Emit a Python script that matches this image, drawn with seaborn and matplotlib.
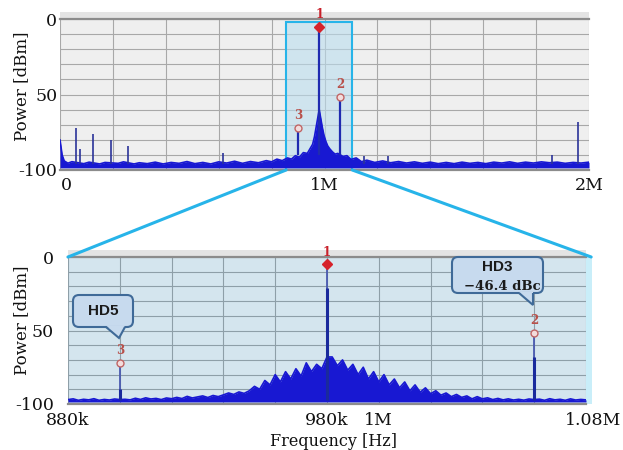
import matplotlib
matplotlib.use("Agg")
import numpy as np
import pandas as pd
import matplotlib.pyplot as plt
import matplotlib.transforms as mtransforms
from matplotlib.patches import Rectangle, FancyBboxPatch, Polygon, ConnectionPatch
import seaborn as sns

# ---------------- data (frequencies in kHz, levels in dBm) ----------------
top_freq = [0, 8, 16, 30, 45, 90, 110, 150, 170, 220,
            240, 280, 300, 330, 360, 390, 420, 450, 480, 510,
            540, 570, 600, 630, 660, 690, 720, 750, 780, 800,
            820, 840, 860, 875, 890, 905, 920, 935, 945, 955,
            962, 968, 974, 980, 986, 992, 998, 1005, 1012, 1020,
            1030, 1040, 1050, 1070, 1085, 1100, 1120, 1140, 1160, 1190,
            1220, 1250, 1280, 1310, 1340, 1370, 1400, 1430, 1460, 1490,
            1520, 1550, 1580, 1610, 1640, 1670, 1700, 1730, 1760, 1790,
            1820, 1850, 1880, 1910, 1940, 1970, 2000]
top_level = [-80, -90, -94, -95.5, -94.5, -95.8, -94.8, -96, -95, -95.6,
             -94.6, -96, -95.2, -95.8, -94.8, -96, -95, -95.6, -94.4, -95.8,
             -95, -96, -94.6, -95.4, -94.2, -95.6, -94.4, -95.2, -93.8, -94.6,
             -92.8, -93.8, -92, -92.8, -90.5, -91.5, -88.5, -89, -86, -83,
             -78, -72, -66, -60, -66, -72, -77, -81, -84, -86,
             -88, -89.5, -89, -91, -90.5, -93, -92, -94.5, -93.5, -95,
             -94, -95.2, -94.4, -95.4, -94.6, -95.6, -94.8, -95.8, -95, -95.8,
             -94.8, -95.6, -95, -95.8, -94.8, -95.4, -94.6, -95.6, -94.8, -95.4,
             -94.6, -95.2, -94.8, -95.6, -95, -95.4, -94.8]

spur_freq = [59, 76, 126, 192, 258, 615, 1150, 1240, 1860, 1959]
spur_level = [-72, -86, -76, -80, -84, -89, -91, -91, -90, -68]

bot_freq = [880, 882, 884, 886, 888, 890, 892, 894, 896, 898,
            900, 902, 904, 906, 908, 910, 912, 914, 916, 918,
            920, 922, 924, 926, 928, 930, 932, 934, 936, 938,
            940, 942, 944, 946, 948, 950, 952, 954, 956, 958,
            960, 962, 964, 966, 968, 970, 972, 974, 976, 978,
            980, 982, 984, 986, 988, 990, 992, 994, 996, 998,
            1000, 1002, 1004, 1006, 1008, 1010, 1012, 1014, 1016, 1018,
            1020, 1022, 1024, 1026, 1028, 1030, 1032, 1034, 1036, 1038,
            1040, 1042, 1044, 1046, 1048, 1050, 1052, 1054, 1056, 1058,
            1060, 1062, 1064, 1066, 1068, 1070, 1072, 1074, 1076, 1078,
            1080]
bot_level = [-97, -96.5, -97.5, -96.8, -97.2, -96.4, -97.5, -96.9, -97.3, -96.6,
             -97, -96.8, -97.2, -96.1, -96.9, -95.8, -96.6, -96.2, -97, -95.9,
             -96.4, -95.5, -96.3, -94.8, -95.9, -95.2, -94.5, -95.6, -94.2, -95,
             -93.8, -92.5, -93.5, -91.8, -92.8, -91, -88, -90, -84, -87,
             -80, -85, -78, -83, -76, -81, -72, -78, -73, -76,
             -68, -68, -74, -70, -77, -73, -80, -75, -83, -78,
             -85, -80, -87, -83, -89, -85, -91, -87, -92, -89,
             -93, -91, -94, -92.5, -95, -93.5, -95.5, -94.5, -96.5, -95,
             -96.5, -95.8, -97, -96.2, -97.2, -96.5, -97.3, -96.8, -97.4, -96.6,
             -97, -96.7, -97.5, -96.4, -97.2, -96.8, -97.5, -96.5, -97.3, -96.9,
             -97.2]

peak_freq = [980, 1060, 900]
peak_level = [-5, -51.4, -72]
peak_core_level = [-21, -68, -90]
peak_id = ["1", "2", "3"]

zoom_span = [855, 1105]          # highlighted span in the top panel (kHz)

top_xticks = [0, 1000, 2000]
top_xlabels = ["0", "1M", "2M"]
bot_xticks = [880, 980, 1000, 1080]
bot_xlabels = ["880k", "980k", "1M", "1.08M"]
y_ticks = [0, -50, -100]
y_labels = ["0", "50", "-100"]

# ---------------- style ----------------
sns.set_theme(style="white")
plt.rcParams["font.family"] = ["DejaVu Serif", "DejaVu Sans"]

W, H = 623, 450
fig = plt.figure(figsize=(W / 100, H / 100), dpi=100)
fig.patch.set_facecolor("white")


def fig_rect(l, t, r, b):
    return [l / W, 1 - b / H, (r - l) / W, (b - t) / H]


ax1 = fig.add_axes(fig_rect(60, 19, 589, 170))
ax2 = fig.add_axes(fig_rect(68, 257, 586, 404))

BLUE = "#1818d2"
FLOOR = -98.6


def style(ax, face, grid_color, xlim, xticks, xlabels, step, ypad, xpad):
    ax.set_facecolor(face)
    ax.set_xlim(*xlim)
    ax.set_ylim(-100, 0)
    ax.set_xticks(xticks)
    ax.set_xticklabels(xlabels)
    ax.set_xticks(np.arange(xlim[0], xlim[1] + 1e-6, step), minor=True)
    ax.set_yticks(y_ticks)
    ax.set_yticklabels(y_labels)
    ax.set_yticks(np.arange(-100, 1, 10), minor=True)
    ax.set_axisbelow(True)
    ax.grid(which="both", color=grid_color, lw=0.8)
    ax.tick_params(which="both", length=0, labelsize=12.5, colors="#111111")
    ax.tick_params(axis="y", pad=ypad)
    ax.tick_params(axis="x", pad=xpad)
    for s in ["left", "right"]:
        ax.spines[s].set_visible(False)
    for s in ["top", "bottom"]:
        ax.spines[s].set_color("#8c8c8c")
        ax.spines[s].set_linewidth(1.6)
    ax.add_patch(Rectangle((0, 1), 1, 0.045, transform=ax.transAxes,
                           fc="#e4e4e4", ec="none", clip_on=False, zorder=0))


style(ax1, "#efefef", "#a8a8a8", (0, 2000), top_xticks, top_xlabels, 200, 2, 5)
style(ax2, "#d4e5ee", "#8e9fa8", (880, 1080), bot_xticks, bot_xlabels, 20, 10, 5.5)

# shift a couple of tick labels like in the reference
lab0 = ax1.get_xticklabels()[0]
lab0.set_transform(lab0.get_transform() + mtransforms.ScaledTranslation(0.06, 0, fig.dpi_scale_trans))
labl = ax2.get_xticklabels()[-1]
labl.set_transform(labl.get_transform() + mtransforms.ScaledTranslation(0.07, 0, fig.dpi_scale_trans))

# highlight in top panel
ax1.add_patch(Rectangle((zoom_span[0], -100), zoom_span[1] - zoom_span[0], 98,
                        fc=(187 / 255, 221 / 255, 238 / 255, 0.6), ec="#27b4e9",
                        lw=1.5, zorder=1))
# cyan strip right of bottom panel
ax2.add_patch(Rectangle((1, 0), 0.012, 1, transform=ax2.transAxes,
                        fc="#c9eef9", ec="none", clip_on=False, zorder=0))


def draw_spectrum(ax, freq, level):
    df = pd.DataFrame({"f": freq, "p": level})
    ax.fill_between(df["f"], FLOOR, df["p"], color=BLUE, lw=0, zorder=2)
    sns.lineplot(data=df, x="f", y="p", ax=ax, color=BLUE, lw=1.2,
                 estimator=None, zorder=3)
    ax.set_xlabel("")
    ax.set_ylabel("")


draw_spectrum(ax1, top_freq, top_level)
draw_spectrum(ax2, bot_freq, bot_level)

ax1.vlines(spur_freq, -96, spur_level, color="#2b3399", lw=1.2, zorder=3)
ax1.vlines(peak_freq, -90, peak_level, color="#1f2bb0", lw=1.6, zorder=4)
ax2.vlines(peak_freq, -97, peak_level, color="#4a5ab0", lw=1.3, zorder=4)
ax2.vlines(peak_freq, -97, peak_core_level, color="#1a2a9c", lw=2.2, zorder=4)

for ax in (ax1, ax2):
    for f, lv, pid in zip(peak_freq, peak_level, peak_id):
        if pid == "1":
            ax.plot(f, lv, marker="D", ms=5.5, color="#d6222a", zorder=6, clip_on=False)
            col = "#c8202a"
        else:
            ax.plot(f, lv, marker="o", ms=5, mfc="#f3dcdc", mec="#c06565", mew=1,
                    zorder=6, clip_on=False)
            col = "#b8504a"
        ax.annotate(pid, (f, lv), xytext=(0, 4), textcoords="offset points",
                    ha="center", va="bottom", color=col, fontsize=8.5,
                    fontweight="bold", annotation_clip=False, zorder=7)

# zoom connection lines
for xa, xb in [(zoom_span[0], 880), (zoom_span[1], 1082)]:
    con = ConnectionPatch(xyA=(xa, -100), coordsA=ax1.transData,
                          xyB=(xb, 0), coordsB=ax2.transData,
                          color="#27b4e9", lw=2.2, zorder=10)
    fig.add_artist(con)

# callouts (pixel coordinates, origin bottom-left)
IDT = mtransforms.IdentityTransform()
FC, EC = "#c7daee", "#3f6a98"


def callout(x0, y0, x1, y1, tail):
    box = FancyBboxPatch((x0, H - y1), x1 - x0, y1 - y0,
                         boxstyle="round,pad=0,rounding_size=6",
                         transform=IDT, fc=FC, ec=EC, lw=1.5, zorder=20)
    fig.add_artist(box)
    (bx0, bx1, by), (tx, ty) = tail
    cover = Polygon([(bx0, H - by + 1.5), (bx1, H - by + 1.5), (tx, H - ty)],
                    closed=True, transform=IDT, fc=FC, ec="none", zorder=21)
    fig.add_artist(cover)
    edge = Polygon([(bx0, H - by), (tx, H - ty), (bx1, H - by)], closed=False,
                   transform=IDT, fill=False, ec=EC, lw=1.5, zorder=22)
    fig.add_artist(edge)


callout(73, 295, 133, 327, ((106, 125, 327), (119, 338)))
callout(452, 257, 543, 293, ((519, 533, 293), (533, 305)))
fig.text(103, H - 311, "HD5", transform=IDT, ha="center", va="center",
         fontsize=11, fontweight="bold", family=["Liberation Sans", "DejaVu Sans"],
         color="#1a1a1a", zorder=25)
fig.text(497, H - 267, "HD3", transform=IDT, ha="center", va="center",
         fontsize=11, fontweight="bold", family=["Liberation Sans", "DejaVu Sans"],
         color="#1a1a1a", zorder=25)
fig.text(502, H - 287, "\u221246.4 dBc", transform=IDT, ha="center", va="center",
         fontsize=9.5, fontweight="bold", color="#1a1a1a", zorder=25)

# axis titles
fig.text(22 / W, 1 - 86 / H, "Power [dBm]", rotation=90, ha="center", va="center",
         fontsize=12, color="#111111")
fig.text(22 / W, 1 - 320 / H, "Power [dBm]", rotation=90, ha="center", va="center",
         fontsize=12, color="#111111")
fig.text(333 / W, 1 - 441 / H, "Frequency [Hz]", ha="center", va="center",
         fontsize=11.5, color="#111111")

fig.savefig("out.png", dpi=100)
